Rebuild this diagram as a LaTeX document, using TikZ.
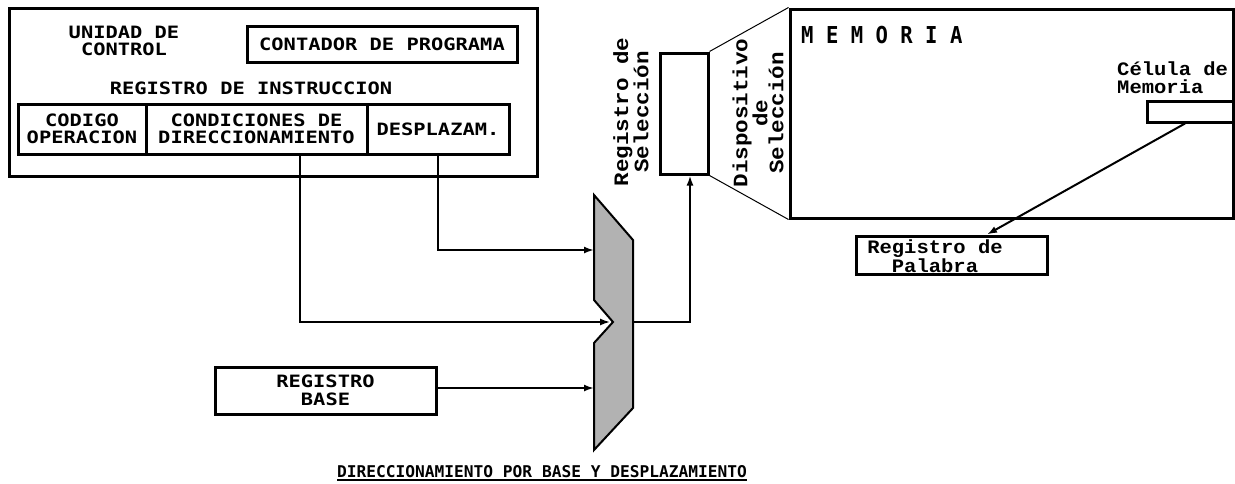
\documentclass[tikz,border=0pt]{standalone}
\usepackage{fontspec}
\usetikzlibrary{arrows.meta}
% fonts: wide bold mono for capitals, plain mono for the title,
% narrow mono for MEMORIA, Courier-metric mono for the small labels
\newfontfamily\capsfont{DejaVu Sans Mono}[FakeStretch=1.2]
\newfontfamily\titlefont{DejaVu Sans Mono}
\newfontfamily\memfont{DejaVu Sans Mono}[FakeStretch=0.884]
\newfontfamily\lblfont{Liberation Mono}[FakeStretch=1.08]
\newfontfamily\vlblfont{Liberation Mono}[FakeStretch=1.1]

\tikzset{
  box/.style={draw, line width=3pt, inner sep=0pt},
  capstext/.style={font=\capsfont\bfseries\fontsize{17}{17.5}\selectfont,
                   align=center, inner sep=0pt},
  lbltext/.style={font=\lblfont\bfseries\fontsize{19}{16}\selectfont,
                  align=center, inner sep=0pt},
  vlbltext/.style={font=\vlblfont\bfseries\fontsize{20.5}{14}\selectfont,
                   align=center, inner sep=0pt, rotate=90},
  thinwire/.style={line width=1.5pt},
  thickwire/.style={line width=2.8pt},
  tip/.style={-{Latex[length=10pt,width=7pt]}},
  muxshape/.style={draw, line width=2pt, fill=black!30, line join=miter},
  fanline/.style={line width=1pt},
}

\begin{document}
\begin{tikzpicture}[x=1pt,y=-1pt]
\useasboundingbox (0,0) rectangle (1235,483);

% control unit
\node[box, minimum width=528pt, minimum height=168pt] (uc) at (273,92) {};
\node[capstext] (uct) at (124,41) {UNIDAD DE\\CONTROL};
\node[box, capstext, minimum width=270pt, minimum height=36pt] (pc) at (382,44)
  {CONTADOR DE PROGRAMA};
\node[capstext] (ri) at (251,88) {REGISTRO DE INSTRUCCION};
\node[box, capstext, minimum width=128pt, minimum height=50pt] (cod) at (82,129)
  {CODIGO\\OPERACION};
\node[box, capstext, minimum width=221pt, minimum height=50pt] (cond) at (256.5,129)
  {CONDICIONES DE\\DIRECCIONAMIENTO};
\node[box, capstext, minimum width=142pt, minimum height=50pt] (desp) at (438,129)
  {DESPLAZAM.};

% base register
\node[box, capstext, minimum width=221pt, minimum height=47pt] (base) at (325.5,390.5)
  {REGISTRO\\BASE};

% adder
\coordinate (mtl) at (594,195);
\coordinate (mtr) at (633,240);
\coordinate (mbr) at (633,408);
\coordinate (mbl) at (594,450);
\coordinate (mn1) at (594,300);
\coordinate (mnv) at (613,322);
\coordinate (mn2) at (594,343);
\coordinate (ina) at (594,250);
\coordinate (inc) at (594,388);
\coordinate (mout) at (633,322);
\draw[muxshape] (mtl) -- (mtr) -- (mbr) -- (mbl) -- (mn2) -- (mnv) -- (mn1) -- cycle;

% selection register and memory
\node[box, minimum width=48pt, minimum height=121pt] (regsel) at (684,113.5) {};
\node[vlbltext] (regselt) at (631,112) {Registro de\\Selección};
\node[box, minimum width=443pt, minimum height=209pt] (mem) at (1011.5,113.5) {};
\node[font=\memfont\bfseries\fontsize{23.3}{24}\selectfont, inner sep=0pt, anchor=west]
  (memt) at (801,35) {M E M O R I A};
\node[vlbltext] (dispt) at (758,113) {Dispositivo\\de\\Selección};
\node[box, minimum width=86pt, minimum height=21pt] (cell) at (1190,111.5) {};
\node[lbltext, align=left, anchor=west, font=\lblfont\bfseries\fontsize{19}{18}\selectfont]
  (cellt) at (1117,78) {Célula de\\Memoria};
\node[box, minimum width=191pt, minimum height=38pt] (pal) at (951.5,255) {};
\node[lbltext] (palt) at (935,256) {Registro de\\Palabra};

% fan of the selection device
\draw[fanline] (regsel.north east) -- (mem.north west);
\draw[fanline] (regsel.south east) -- (mem.south west);

% connectors
\draw[thickwire, tip] (desp.south) |- (ina);
\draw[thinwire, tip, shorten >=3pt] ([xshift=43.5pt]cond.south) |- (mnv);
\draw[thickwire, tip] (base.east |- inc) -- (inc);
\draw[thickwire, tip] (mout) -| ([xshift=6pt]regsel.south);
\draw[line width=2pt, tip] ([xshift=-5pt]cell.south) -- ([xshift=35.5pt]pal.north);

% caption
\node[font=\titlefont\bfseries\fontsize{16.2}{17}\selectfont, inner sep=0pt, anchor=base west]
  (title) at (337,477) {DIRECCIONAMIENTO POR BASE Y DESPLAZAMIENTO};
\draw[line width=2pt] ([yshift=-2.5pt]title.base west) -- ([yshift=-2.5pt]title.base east);
\end{tikzpicture}
\end{document}
